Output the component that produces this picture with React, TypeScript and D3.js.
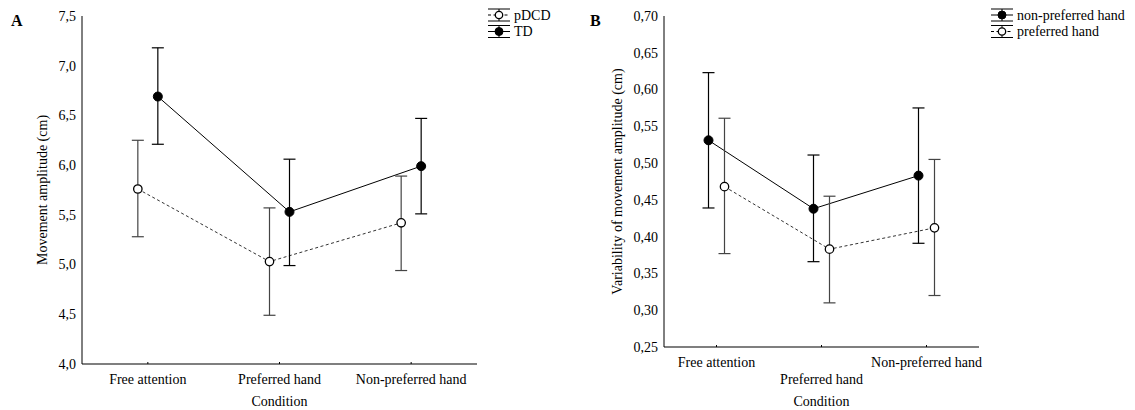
import React from "react";
import * as d3 from "d3";

const categories = ["Free attention", "Preferred hand", "Non-preferred hand"];

// Panel A: movement amplitude (cm)
const pdcdMean = [5.76, 5.03, 5.42];
const pdcdLow = [5.28, 4.49, 4.94];
const pdcdHigh = [6.25, 5.57, 5.89];
const tdMean = [6.69, 5.53, 5.99];
const tdLow = [6.21, 4.99, 5.51];
const tdHigh = [7.18, 6.06, 6.47];
const ticksA = [4.0, 4.5, 5.0, 5.5, 6.0, 6.5, 7.0, 7.5];

// Panel B: variability of movement amplitude (cm)
const nonPrefMean = [0.531, 0.438, 0.483];
const nonPrefLow = [0.439, 0.366, 0.391];
const nonPrefHigh = [0.623, 0.511, 0.575];
const prefMean = [0.468, 0.383, 0.412];
const prefLow = [0.377, 0.31, 0.32];
const prefHigh = [0.561, 0.455, 0.505];
const ticksB = [0.25, 0.3, 0.35, 0.4, 0.45, 0.5, 0.55, 0.6, 0.65, 0.7];

const FONT = "'Liberation Serif', 'Times New Roman', serif";
const FS = 14;

type Series = {
  name: string;
  mean: number[];
  low: number[];
  high: number[];
  filled: boolean;
  offset: number;
};

type PanelProps = {
  letter: string;
  letterX: number;
  x0: number;
  x1: number;
  yTop: number;
  yBottom: number;
  domain: [number, number];
  ticks: number[];
  fmt: (v: number) => string;
  yLabel: string;
  yLabelX: number;
  series: Series[];
  stagger: boolean;
  legendX: number;
  legendOrder: Series[];
};

function Marker({ cx, cy, filled, r }: { cx: number; cy: number; filled: boolean; r: number }) {
  return filled ? (
    <circle cx={cx} cy={cy} r={r} fill="#000" stroke="#000" strokeWidth={1} />
  ) : (
    <circle cx={cx} cy={cy} r={r - 0.3} fill="#fff" stroke="#000" strokeWidth={1.3} />
  );
}

function Panel(p: PanelProps) {
  const x = d3.scalePoint<string>().domain(categories).range([p.x0, p.x1]).padding(0.5);
  const y = d3.scaleLinear().domain(p.domain).range([p.yBottom, p.yTop]);
  const midX = (p.x0 + p.x1) / 2;
  const cap = 6;

  return (
    <g fontFamily={FONT} fill="#000">
      <text x={p.letterX} y={26} fontSize={16} fontWeight="bold">
        {p.letter}
      </text>
      {/* axes */}
      <line x1={p.x0} x2={p.x0} y1={p.yTop} y2={p.yBottom} stroke="#000" strokeWidth={1} />
      <line x1={p.x0} x2={p.x1} y1={p.yBottom} y2={p.yBottom} stroke="#000" strokeWidth={1.2} />
      {p.ticks.map((t) => (
        <text key={t} x={p.x0 - 6} y={y(t)} dy="0.35em" textAnchor="end" fontSize={FS}>
          {p.fmt(t)}
        </text>
      ))}
      {categories.map((c, i) => (
        <g key={c}>
          <line x1={x(c)!} x2={x(c)!} y1={p.yBottom} y2={p.yBottom - 2} stroke="#000" />
          <text
            x={x(c)!}
            y={p.stagger && i === 1 ? p.yBottom + 37 : p.yBottom + 20}
            textAnchor="middle"
            fontSize={FS}
          >
            {c}
          </text>
        </g>
      ))}
      <text x={midX} y={406} textAnchor="middle" fontSize={FS}>
        Condition
      </text>
      <text
        transform={`translate(${p.yLabelX},${(p.yTop + p.yBottom) / 2}) rotate(-90)`}
        textAnchor="middle"
        dy="0.35em"
        fontSize={FS}
      >
        {p.yLabel}
      </text>

      {/* series lines */}
      {p.series.map((s) => {
        const line = d3
          .line<number>()
          .x((_, i) => x(categories[i])! + s.offset)
          .y((v) => y(v));
        return (
          <path
            key={s.name + "line"}
            d={line(s.mean) || ""}
            fill="none"
            stroke={s.filled ? "#000" : "#333"}
            strokeWidth={1}
            strokeDasharray={s.filled ? undefined : "3,2.5"}
          />
        );
      })}
      {/* error bars */}
      {p.series.map((s) => (
        <g key={s.name + "eb"}>
          {s.mean.map((m, i) => {
            const cx = x(categories[i])! + s.offset;
            const col = s.filled ? "#000" : "#444";
            return (
              <g key={i}>
                <line x1={cx} x2={cx} y1={y(s.low[i])} y2={y(s.high[i])} stroke={col} strokeWidth={1.2} />
                <line x1={cx - cap} x2={cx + cap} y1={y(s.low[i])} y2={y(s.low[i])} stroke={col} strokeWidth={1.2} />
                <line x1={cx - cap} x2={cx + cap} y1={y(s.high[i])} y2={y(s.high[i])} stroke={col} strokeWidth={1.2} />
              </g>
            );
          })}
        </g>
      ))}
      {/* markers */}
      {p.series.map((s) => (
        <g key={s.name + "mk"}>
          {s.mean.map((m, i) => (
            <Marker key={i} cx={x(categories[i])! + s.offset} cy={y(m)} filled={s.filled} r={4.5} />
          ))}
        </g>
      ))}

      {/* legend */}
      {p.legendOrder.map((s, i) => {
        const cy = 15 + i * 16.5;
        const lx = p.legendX;
        return (
          <g key={s.name + "lg"}>
            <line x1={lx - 11} x2={lx + 11} y1={cy - 6} y2={cy - 6} stroke="#000" strokeWidth={1} />
            <line x1={lx - 11} x2={lx + 11} y1={cy + 6} y2={cy + 6} stroke="#000" strokeWidth={1} />
            <line x1={lx} x2={lx} y1={cy - 6} y2={cy + 6} stroke="#000" strokeWidth={1} />
            <line
              x1={lx - 11}
              x2={lx + 11}
              y1={cy}
              y2={cy}
              stroke="#000"
              strokeWidth={1}
              strokeDasharray={s.filled ? undefined : "3,2.5"}
            />
            <Marker cx={lx} cy={cy} filled={s.filled} r={4} />
            <text x={lx + 15} y={cy} dy="0.35em" fontSize={FS}>
              {s.name}
            </text>
          </g>
        );
      })}
    </g>
  );
}

export default function App() {
  const fmt1 = (v: number) => d3.format(".1f")(v).replace(".", ",");
  const fmt2 = (v: number) => d3.format(".2f")(v).replace(".", ",");

  const pdcd: Series = { name: "pDCD", mean: pdcdMean, low: pdcdLow, high: pdcdHigh, filled: false, offset: -10 };
  const td: Series = { name: "TD", mean: tdMean, low: tdLow, high: tdHigh, filled: true, offset: 10 };
  const nonPref: Series = {
    name: "non-preferred hand",
    mean: nonPrefMean,
    low: nonPrefLow,
    high: nonPrefHigh,
    filled: true,
    offset: -8,
  };
  const pref: Series = {
    name: "preferred hand",
    mean: prefMean,
    low: prefLow,
    high: prefHigh,
    filled: false,
    offset: 8,
  };

  return (
    <svg width={1135} height={410} style={{ position: "absolute", left: 0, top: 0, background: "#fff" }}>
      <rect width={1135} height={410} fill="#fff" />
      <Panel
        letter="A"
        letterX={11}
        x0={82}
        x1={477}
        yTop={16}
        yBottom={364}
        domain={[4.0, 7.5]}
        ticks={ticksA}
        fmt={fmt1}
        yLabel="Movement amplitude (cm)"
        yLabelX={42}
        series={[pdcd, td]}
        stagger={false}
        legendX={499}
        legendOrder={[pdcd, td]}
      />
      <Panel
        letter="B"
        letterX={590}
        x0={664}
        x1={979}
        yTop={16}
        yBottom={347}
        domain={[0.25, 0.7]}
        ticks={ticksB}
        fmt={fmt2}
        yLabel="Variability of movement amplitude (cm)"
        yLabelX={617}
        series={[pref, nonPref]}
        stagger={true}
        legendX={1002}
        legendOrder={[nonPref, pref]}
      />
    </svg>
  );
}
